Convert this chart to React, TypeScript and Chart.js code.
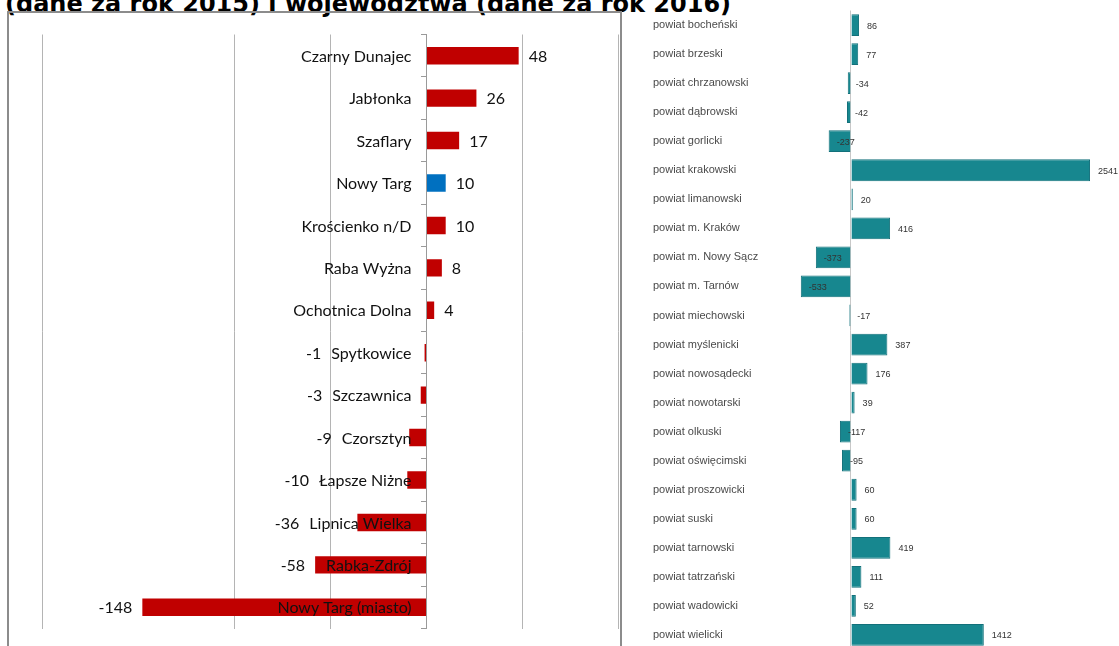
import React, { useEffect, useRef } from 'react';
import { Chart, registerables } from 'chart.js';

Chart.register(...registerables);

// ---------- text ----------
const titleText = '(dane za rok 2015) i województwa (dane za rok 2016)';

// ---------- left chart: gminy ----------
const gminaLabels = [
  'Czarny Dunajec',
  'Jabłonka',
  'Szaflary',
  'Nowy Targ',
  'Krościenko n/D',
  'Raba Wyżna',
  'Ochotnica Dolna',
  'Spytkowice',
  'Szczawnica',
  'Czorsztyn',
  'Łapsze Niżne',
  'Lipnica Wielka',
  'Rabka-Zdrój',
  'Nowy Targ (miasto)',
];
const gminaValues = [48, 26, 17, 10, 10, 8, 4, -1, -3, -9, -10, -36, -58, -148];
const highlightedGmina = 'Nowy Targ';
const gminaAxisMin = -200;
const gminaAxisMax = 100;
const gminaAxisStep = 50;
const gminaHiddenGrid = -150;

// ---------- right chart: powiaty ----------
const powiatLabels = [
  'powiat bocheński',
  'powiat brzeski',
  'powiat chrzanowski',
  'powiat dąbrowski',
  'powiat gorlicki',
  'powiat krakowski',
  'powiat limanowski',
  'powiat m. Kraków',
  'powiat m. Nowy Sącz',
  'powiat m. Tarnów',
  'powiat miechowski',
  'powiat myślenicki',
  'powiat nowosądecki',
  'powiat nowotarski',
  'powiat olkuski',
  'powiat oświęcimski',
  'powiat proszowicki',
  'powiat suski',
  'powiat tarnowski',
  'powiat tatrzański',
  'powiat wadowicki',
  'powiat wielicki',
];
const powiatValues = [
  86, 77, -34, -42, -237, 2541, 20, 416, -373, -533, -17, 387, 176, 39, -117, -95, 60, 60, 419, 111, 52, 1412,
];
const powiatAxisMin = -600;
const powiatAxisMax = 2700;

// ---------- styles ----------
const RED = '#c00000';
const BLUE = '#0070c0';
const TEAL = '#17878f';
const TEAL_EDGE = '#12707a';
const NARROW = 'Lato, "Open Sans", sans-serif';
const NARROW_SIZE = 16;
const SMALL = '"Liberation Sans", Arial, sans-serif';

const LEFT_TICK_LEN = 5;
const LEFT_TICK_PAD = 10;

const leftLabelPlugin = {
  id: 'leftLabels',
  afterDatasetsDraw(chart: any) {
    const ctx = chart.ctx;
    const meta = chart.getDatasetMeta(0);
    const zeroX = chart.scales.x.getPixelForValue(0);
    const yScale = chart.scales.y;
    ctx.save();
    ctx.font = `${NARROW_SIZE}px ${NARROW}`;
    ctx.fillStyle = '#111';
    ctx.textBaseline = 'middle';
    const labelRight = zeroX - LEFT_TICK_LEN - LEFT_TICK_PAD;
    gminaLabels.forEach((label, i) => {
      const y = yScale.getPixelForValue(i) + 1;
      ctx.textAlign = 'right';
      ctx.fillText(label, labelRight, y);
      const v = gminaValues[i];
      const end = meta.data[i].x;
      if (v >= 0) {
        ctx.textAlign = 'left';
        ctx.fillText(String(v), end + 10, y);
      } else {
        const labelLeft = labelRight - ctx.measureText(label).width;
        ctx.textAlign = 'right';
        ctx.fillText(String(v), Math.min(end, labelLeft) - 10, y);
      }
    });
    ctx.restore();
  },
};

const rightValuePlugin = {
  id: 'rightValueLabels',
  afterDatasetsDraw(chart: any) {
    const ctx = chart.ctx;
    const meta = chart.getDatasetMeta(0);
    ctx.save();
    ctx.font = `9px ${SMALL}`;
    ctx.fillStyle = '#333';
    ctx.textBaseline = 'middle';
    ctx.textAlign = 'left';
    meta.data.forEach((bar: any, i: number) => {
      ctx.fillText(String(powiatValues[i]), bar.x + 8, bar.y + 1);
    });
    ctx.restore();
  },
};

function LeftChart() {
  const ref = useRef<HTMLCanvasElement>(null);
  useEffect(() => {
    if (!ref.current) return;
    const chart = new Chart(ref.current, {
      type: 'bar',
      data: {
        labels: gminaLabels,
        datasets: [
          {
            data: gminaValues,
            backgroundColor: gminaLabels.map((l) => (l === highlightedGmina ? BLUE : RED)),
            barPercentage: 0.41,
            categoryPercentage: 1,
          },
        ],
      },
      options: {
        indexAxis: 'y',
        responsive: false,
        devicePixelRatio: 1,
        animation: false,
        layout: { padding: { left: 10.5, right: 9.5, top: 10.5, bottom: 5.5 } },
        plugins: {
          legend: { display: false },
          tooltip: { enabled: false },
        },
        scales: {
          x: {
            type: 'linear',
            min: gminaAxisMin,
            max: gminaAxisMax,
            ticks: { display: false, stepSize: gminaAxisStep },
            grid: {
              drawTicks: false,
              color: (c: any) => (c.tick && c.tick.value === gminaHiddenGrid ? 'rgba(0,0,0,0)' : '#b4b4b4'),
            },
            border: { display: false },
          },
          y: {
            type: 'category',
            position: { x: 0 } as any,
            grid: {
              drawOnChartArea: false,
              drawTicks: true,
              tickLength: LEFT_TICK_LEN,
              color: '#9a9a9a',
              offset: true,
            },
            border: { display: true, color: '#9a9a9a' },
            ticks: { display: false, autoSkip: false },
          },
        },
      } as any,
      plugins: [leftLabelPlugin],
    });
    return () => chart.destroy();
  }, []);
  return (
    <canvas
      ref={ref}
      width={596}
      height={610}
      style={{ position: 'absolute', left: 32, top: 24, width: 596, height: 610 }}
    />
  );
}

function RightChart() {
  const ref = useRef<HTMLCanvasElement>(null);
  useEffect(() => {
    if (!ref.current) return;
    const chart = new Chart(ref.current, {
      type: 'bar',
      data: {
        labels: powiatLabels,
        datasets: [
          {
            data: powiatValues,
            backgroundColor: TEAL,
            borderColor: TEAL_EDGE,
            borderWidth: 1,
            barPercentage: 0.75,
            categoryPercentage: 1,
          },
        ],
      },
      options: {
        indexAxis: 'y',
        responsive: false,
        devicePixelRatio: 1,
        animation: false,
        layout: { padding: { left: 10, right: 14, top: 10.5, bottom: 10.5 } },
        plugins: {
          legend: { display: false },
          tooltip: { enabled: false },
        },
        scales: {
          x: {
            type: 'linear',
            min: powiatAxisMin,
            max: powiatAxisMax,
            ticks: { display: false, stepSize: 100 },
            grid: {
              drawTicks: false,
              color: (c: any) => (c.tick && c.tick.value === 0 ? '#c8c8c8' : 'rgba(0,0,0,0)'),
            },
            border: { display: false },
          },
          y: {
            type: 'category',
            afterFit: (s: any) => {
              s.width = 141.5;
            },
            grid: { display: false, drawTicks: false },
            border: { display: false },
            ticks: {
              autoSkip: false,
              crossAlign: 'far',
              padding: 0,
              color: '#4a4a4a',
              font: { family: SMALL, size: 11 },
            },
          },
        },
      } as any,
      plugins: [rightValuePlugin],
    });
    return () => chart.destroy();
  }, []);
  return (
    <canvas
      ref={ref}
      width={476}
      height={660}
      style={{ position: 'absolute', left: 643, top: 0, width: 476, height: 660 }}
    />
  );
}

export default function App() {
  return (
    <div
      style={{
        position: 'fixed',
        left: 0,
        top: 0,
        width: 1119,
        height: 646,
        overflow: 'hidden',
        background: '#fff',
      }}
    >
      <div
        style={{
          position: 'absolute',
          left: 5,
          top: -8,
          fontFamily: '"DejaVu Sans", Verdana, sans-serif',
          fontWeight: 'bold',
          fontSize: 24,
          lineHeight: '24px',
          whiteSpace: 'nowrap',
          color: '#000',
        }}
      >
        {titleText}
      </div>
      <div
        style={{
          position: 'absolute',
          left: 7,
          top: 11,
          width: 611,
          height: 700,
          border: '2px solid #8c8c8c',
        }}
      />
      <LeftChart />
      <RightChart />
    </div>
  );
}
